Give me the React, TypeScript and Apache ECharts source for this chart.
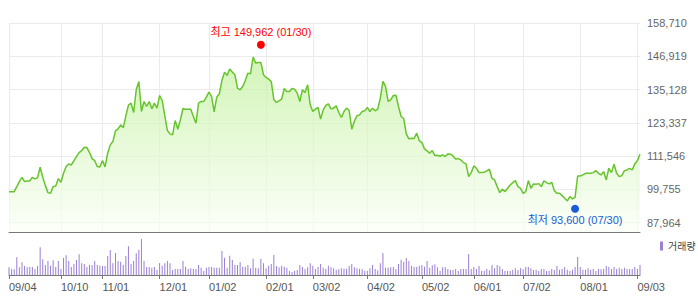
import React, { useEffect, useRef } from "react";
import * as echarts from "echarts";

// Trading calendar (KRX) 2017-09-04 .. 2018-09-04
const START_DATE = "2017-09-04";
const END_DATE = "2018-09-04";
const HOLIDAYS = [
  "2017-10-02", "2017-10-03", "2017-10-04", "2017-10-05", "2017-10-06", "2017-10-09",
  "2017-12-25", "2017-12-29", "2018-01-01", "2018-02-15", "2018-02-16", "2018-03-01",
  "2018-05-01", "2018-05-07", "2018-05-22", "2018-06-06", "2018-06-13", "2018-08-15",
];

const TICK_DATES = [
  "2017-09-04", "2017-10-10", "2017-11-01", "2017-12-01", "2018-01-02", "2018-02-01",
  "2018-03-02", "2018-04-02", "2018-05-02", "2018-06-01", "2018-07-02", "2018-08-01", "2018-09-03",
];

const Y_TICKS = [87964, 99755, 111546, 123337, 135128, 146919, 158710];

const PRICE = [
  98970, 98970, 98970, 100750, 102520, 104060, 102520, 102760, 102760, 104060,
  103470, 103940, 107610, 104060, 101100, 98620, 98380, 100750, 100980, 103590,
  102280, 105480, 107840, 108790, 108430, 109970, 111390, 112810, 113520, 114700,
  114590, 112810, 110680, 109970, 107840, 107730, 109970, 107730, 112570, 115530,
  116710, 120500, 121210, 122630, 121560, 125830, 129610, 130310, 127000, 135050,
  138000, 127360, 130910, 129130, 130910, 128300, 130310, 128540, 133030, 131260,
  125830, 120620, 119430, 119080, 124160, 121090, 124400, 128420, 128190, 128190,
  128190, 125580, 123220, 130310, 130910, 130910, 132440, 134220, 132680, 127240,
  132440, 133630, 138360, 141310, 140130, 142380, 141310, 140370, 135640, 135050,
  136230, 138360, 140960, 140720, 146640, 144510, 144740, 144740, 140370, 139420,
  138830, 138000, 131500, 130550, 131140, 131730, 135520, 134450, 134450, 135520,
  135280, 133860, 130910, 135050, 134100, 136820, 129720, 127360, 128190, 128780,
  124640, 127950, 129490, 130080, 128300, 128540, 129370, 127000, 125230, 127360,
  128540, 127710, 121090, 123930, 125830, 126170, 127360, 127590, 128780, 127360,
  128540, 127590, 128190, 132090, 138000, 136230, 130910, 131500, 133030, 133150,
  129130, 125580, 124870, 119430, 117660, 117900, 117780, 119670, 117070, 116360,
  114110, 113400, 112570, 113520, 111750, 111870, 111510, 111980, 111390, 112340,
  112220, 111630, 110560, 110680, 110210, 109260, 108790, 104300, 105710, 108080,
  107250, 105710, 105710, 105830, 106300, 106900, 103700, 103110, 100750, 98620,
  99800, 98970, 100150, 101340, 102170, 102880, 100750, 100150, 98380, 98970,
  102880, 100150, 101690, 101570, 101810, 100750, 102760, 102170, 101690, 102280,
  99330, 98380, 98380, 97550, 96610, 95660, 97200, 96370, 96960, 104530,
  104530, 104890, 105480, 105480, 105480, 105710, 106420, 105480, 104890, 106070,
  103110, 107250, 105710, 108670, 105480, 104300, 104650, 106420, 106660, 107250,
  106660, 108790, 109970, 112220,
];

// volume, thousand shares
const VOLUME = [
  230, 180, 170, 530, 230, 380, 270, 230, 240, 240,
  180, 270, 830, 470, 300, 420, 280, 440, 240, 420,
  180, 510, 590, 420, 240, 330, 450, 620, 350, 330,
  240, 310, 300, 420, 300, 280, 270, 270, 570, 750,
  350, 660, 420, 400, 300, 570, 860, 330, 420, 650,
  750, 1080, 420, 240, 240, 220, 240, 150, 360, 280,
  350, 420, 350, 150, 180, 180, 180, 420, 250, 180,
  200, 180, 180, 300, 220, 120, 220, 240, 240, 220,
  220, 220, 720, 520, 220, 580, 450, 300, 300, 390,
  250, 250, 300, 200, 490, 220, 200, 490, 350, 200,
  280, 330, 600, 270, 230, 280, 250, 220, 120, 90,
  130, 150, 300, 240, 180, 230, 350, 280, 180, 240,
  330, 220, 180, 280, 230, 200, 160, 170, 200, 190,
  190, 270, 330, 230, 200, 190, 170, 130, 130, 200,
  300, 180, 140, 350, 660, 220, 220, 230, 240, 180,
  330, 460, 400, 510, 420, 280, 240, 240, 280, 300,
  250, 420, 220, 290, 320, 230, 130, 230, 240, 180,
  150, 150, 180, 120, 180, 180, 180, 630, 180, 240,
  180, 270, 130, 130, 180, 140, 300, 200, 300, 260,
  180, 120, 120, 120, 160, 200, 150, 200, 170, 240,
  240, 200, 150, 160, 120, 180, 180, 120, 130, 180,
  150, 270, 160, 180, 240, 160, 120, 160, 240, 540,
  240, 160, 160, 200, 160, 180, 120, 180, 170, 180,
  270, 250, 180, 240, 180, 220, 180, 220, 180, 180,
  180, 240, 180, 300,
];

const MAX_DATE = "2018-01-30";
const MAX_VALUE = 149962;
const MIN_DATE = "2018-07-30";
const MIN_VALUE = 93600;

function buildDates(): string[] {
  const out: string[] = [];
  const hol = new Set(HOLIDAYS);
  const [sy, sm, sd] = START_DATE.split("-").map(Number);
  const [ey, em, ed] = END_DATE.split("-").map(Number);
  let t = Date.UTC(sy, sm - 1, sd);
  const end = Date.UTC(ey, em - 1, ed);
  while (t <= end) {
    const d = new Date(t);
    const wd = d.getUTCDay();
    const s = d.toISOString().slice(0, 10);
    if (wd !== 0 && wd !== 6 && !hol.has(s)) out.push(s);
    t += 86400000;
  }
  return out;
}

const DATES = buildDates();
const TICK_SET = new Set(TICK_DATES);
const mmdd = (s: string) => s.slice(5, 7) + "/" + s.slice(8, 10);
const fmt = (v: number) => v.toLocaleString("en-US");
const FONT = "'Liberation Sans', Arial, 'Noto Sans CJK KR', sans-serif";

export default function App() {
  const ref = useRef<HTMLDivElement>(null);
  useEffect(() => {
    if (!ref.current) return;
    const chart = echarts.init(ref.current, undefined, { renderer: "svg" });
    const tickFn = (_i: number, v: string) => TICK_SET.has(v);
    chart.setOption({
      animation: false,
      textStyle: { fontFamily: FONT },
      legend: {
        data: ["거래량"],
        left: 655,
        top: 236,
        icon: "rect",
        itemWidth: 3,
        itemHeight: 9,
        textStyle: { fontSize: 10, color: "#444", fontFamily: FONT },
        selectedMode: false,
      },
      grid: [
        { left: 9, right: 58, top: 23, bottom: 72 },
        { left: 9, right: 58, top: 236, bottom: 29 },
      ],
      xAxis: [
        {
          type: "category",
          gridIndex: 0,
          data: DATES,
          boundaryGap: false,
          axisLine: { lineStyle: { color: "#777", width: 1 } },
          axisTick: { show: false },
          axisLabel: { show: false },
          splitLine: { show: true, interval: tickFn, lineStyle: { color: "#ebebeb" } },
        },
        {
          type: "category",
          gridIndex: 1,
          data: DATES,
          boundaryGap: false,
          axisLine: { lineStyle: { color: "#777", width: 1 } },
          axisTick: { show: true, interval: tickFn, length: 4, lineStyle: { color: "#777" } },
          axisLabel: {
            interval: tickFn,
            formatter: (v: string) => mmdd(v),
            align: "left",
            color: "#555",
            fontSize: 11,
            margin: 6,
            fontFamily: FONT,
          },
          splitLine: { show: false },
        },
      ],
      yAxis: [
        {
          type: "value",
          gridIndex: 0,
          position: "right",
          min: 84670,
          max: 158710,
          axisLine: { show: false },
          axisTick: { show: false, customValues: Y_TICKS },
          axisLabel: {
            customValues: Y_TICKS,
            formatter: (v: number) => fmt(v),
            color: "#666",
            fontSize: 11,
            margin: 7,
            fontFamily: FONT,
          },
          splitLine: { show: true, lineStyle: { color: "#ebebeb" } },
        },
        {
          type: "value",
          gridIndex: 1,
          min: 0,
          max: 1170,
          axisLine: { show: false },
          axisTick: { show: false },
          axisLabel: { show: false },
          splitLine: { show: false },
        },
      ],
      series: [
        {
          name: "주가",
          type: "line",
          xAxisIndex: 0,
          yAxisIndex: 0,
          data: PRICE,
          symbol: "none",
          lineStyle: { color: "#66c42c", width: 1.5 },
          areaStyle: {
            color: new echarts.graphic.LinearGradient(0, 0, 0, 1, [
              { offset: 0, color: "#c0f09a" },
              { offset: 1, color: "#fbfff7" },
            ]),
          },
          z: 2,
        },
        {
          name: "거래량",
          type: "bar",
          xAxisIndex: 1,
          yAxisIndex: 1,
          data: VOLUME,
          barWidth: 1,
          itemStyle: { color: "#9a7fd2" },
        },
        {
          name: "최고",
          type: "scatter",
          xAxisIndex: 0,
          yAxisIndex: 0,
          data: [[MAX_DATE, MAX_VALUE]],
          symbolSize: 8,
          symbolOffset: [0, -3],
          itemStyle: { color: "#ff0000", opacity: 1 },
          label: {
            show: true,
            position: "top",
            distance: 3,
            color: "#ff0000",
            fontSize: 11,
            fontFamily: FONT,
            formatter: () => `최고 ${fmt(MAX_VALUE)} (${mmdd(MAX_DATE)})`,
          },
          z: 5,
        },
        {
          name: "최저",
          type: "scatter",
          xAxisIndex: 0,
          yAxisIndex: 0,
          data: [[MIN_DATE, MIN_VALUE]],
          symbolSize: 8,
          symbolOffset: [0, 2],
          itemStyle: { color: "#1a5cd6", opacity: 1 },
          label: {
            show: true,
            position: "bottom",
            distance: 2,
            color: "#1a5cd6",
            fontSize: 11,
            fontFamily: FONT,
            formatter: () => `최저 ${fmt(MIN_VALUE)} (${mmdd(MIN_DATE)})`,
          },
          z: 5,
        },
      ],
    });
    return () => chart.dispose();
  }, []);
  return (
    <div
      ref={ref}
      style={{ position: "fixed", left: 0, top: 0, width: 698, height: 304, background: "#fff" }}
    />
  );
}
